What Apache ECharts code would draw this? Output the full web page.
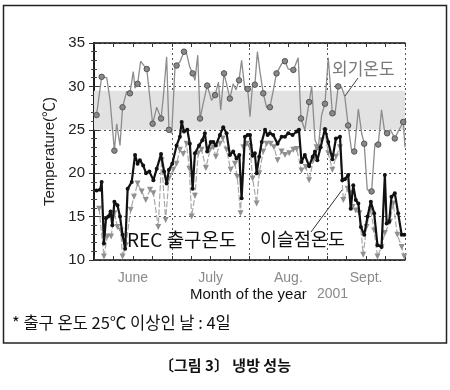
<!DOCTYPE html>
<html><head><meta charset="utf-8">
<script src="https://cdn.jsdelivr.net/npm/echarts@6/dist/echarts.min.js"></script>
<style>html,body{margin:0;padding:0;background:#fff}#c{width:450px;height:390px}</style>
</head><body><div id="c"></div>
<script>
const months = ['June', 'July', 'Aug.', 'Sept.'];
const yTicks = [10, 15, 20, 25, 30, 35];
const comfortBand = [25, 29.5];

// 외기온도 (outdoor)
const outDays = [1.0,3.0,5.0,6.3,8.0,8.9,10.2,11.2,12.8,14.1,15.4,16.1,17.1,18.3,19.6,20.7,23.0,24.6,26.3,27.2,28.5,29.4,30.5,31.8,32.4,33.7,35.3,36.3,37.6,38.7,39.6,40.7,41.6,43.1,44.4,46.1,47.5,48.8,49.7,51.0,52.0,53.3,54.6,55.7,56.9,57.9,59.2,60.3,61.2,62.1,63.1,64.1,65.1,66.4,67.7,69.0,70.1,71.6,73.6,74.9,76.2,78.2,80.1,81.2,82.7,84.4,85.4,86.7,88.0,89.3,90.6,91.9,93.5,94.5,95.8,97.1,98.4,99.7,101.0,102.1,103.7,105.0,106.0,107.2,108.9,110.2,111.5,112.8,114.1,115.0,116.3,118.0,119.3,121.3,122];
const outTemp = [26.7,31.1,31.0,28.4,22.6,25.7,23.2,27.6,29.4,29.2,31.7,29.8,30.3,32.9,32.4,32.0,25.7,27.6,26.3,28.8,33.4,25.0,24.6,32.4,32.4,32.8,34.0,33.8,32.2,31.5,30.7,33.6,26.3,28.4,30.1,28.4,29.0,30.5,27.3,31.5,30.3,28.6,30.3,29.6,30.7,33.0,29.6,29.7,26.5,29.9,30.2,34.0,31.7,29.2,27.6,27.6,29.2,31.5,32.6,32.9,32.0,31.9,33.3,26.3,25.0,28.2,30.0,23.8,23.0,26.7,28.0,33.3,26.9,26.7,30.0,29.9,28.8,25.5,22.7,22.5,27.4,24.6,23.4,18.1,17.9,23.4,23.3,27.3,24.6,24.6,25.0,24.0,24.8,25.9,23.0];
const outMark = [1,1,0,0,1,0,0,1,0,1, 0,0,1,0,0,1,1,0,1,0, 0,1,0,0,1,0,1,0,0,1, 0,0,1,0,1,0,1,0,0,1, 0,1,0,0,1,0,0,1,0,0, 1,0,0,1,0,1,0,1,0,1, 0,1,0,1,0,1,0,0,1,0, 1,0,1,0,1,0,0,1,0,1, 0,0,1,0,1,0,1,0,0,1, 0,1,0,1,0];

// REC 출구온도
const recDays = [1.0,2.4,3.0,3.9,4.7,5.6,6.5,7.2,8.0,9.2,10.2,11.2,12.2,13.2,14.8,16.1,17.1,18.0,19.3,20.4,21.7,23.3,24.6,26.3,27.5,28.5,29.4,30.7,32.4,33.7,34.4,35.3,36.6,37.6,38.7,39.6,41.2,42.5,43.5,44.4,45.8,46.8,47.8,49.4,50.7,52.0,53.3,54.6,55.9,57.0,57.9,59.2,60.3,61.2,62.2,63.1,63.8,64.8,65.8,67.1,68.1,69.0,70.3,72.0,73.6,74.9,76.2,77.9,79.5,80.4,81.4,82.7,84.4,85.8,86.7,87.6,88.9,90.6,91.9,93.5,94.9,96.5,97.4,98.4,99.7,100.7,101.7,102.7,103.7,104.7,106.0,107.3,108.6,109.9,111.2,112.8,114.1,114.8,115.8,116.7,118.0,119.3,120.7,121.7];
const recTemp = [18.0,18.1,19.0,11.9,14.8,15.0,15.6,14.0,16.7,16.3,15.0,12.9,11.3,18.2,19.0,22.1,21.1,21.5,20.9,20.0,20.2,19.2,20.5,22.2,20.2,18.8,20.4,21.1,23.2,24.2,25.9,24.8,25.0,23.4,18.2,22.3,23.2,23.8,24.6,22.5,23.6,23.6,23.2,24.4,25.3,24.6,22.1,22.5,21.7,22.1,17.1,24.2,24.4,24.4,22.0,22.3,20.0,21.9,23.6,25.0,24.4,24.6,24.4,23.4,24.2,24.2,24.6,24.4,24.8,25.0,21.3,22.1,20.8,21.9,22.5,21.5,23.0,25.1,23.6,21.6,24.0,24.2,19.2,19.3,19.8,15.9,18.6,16.9,16.5,13.8,12.9,15.0,16.7,15.4,11.7,11.5,19.8,14.2,14.4,17.3,17.7,15.4,12.9,12.9];

// 이슬점온도 (dew point)
const dewDays = [2.0,3.9,5.2,6.7,8.0,9.2,10.5,11.2,12.5,14.4,15.7,17.1,18.7,20.3,22.0,23.3,25.2,26.5,28.1,29.4,31.1,32.4,33.7,35.0,36.3,37.4,38.3,39.6,40.9,42.2,43.9,45.5,46.8,47.8,49.4,50.5,52.0,53.6,55.3,56.2,57.5,58.6,59.9,61.2,62.2,63.8,64.8,66.4,67.7,69.3,70.6,72.0,73.6,74.9,76.6,78.2,79.5,81.4,83.1,84.4,86.0,87.3,89.3,90.6,91.9,93.5,94.9,96.5,97.8,99.5,100.4,101.4,102.7,104.1,105.6,106.9,108.5,109.9,111.2,112.8,114.1,116.1,117.4,119.0,120.7,121.7];
const dewTemp = [15.9,10.4,12.7,12.7,15.4,13.8,13.4,10.4,11.7,15.8,17.3,18.8,17.9,16.9,18.1,17.7,13.8,21.5,14.6,19.4,20.4,21.1,22.7,22.2,23.4,20.5,15.0,17.4,22.3,22.7,20.6,22.7,23.0,21.9,23.4,24.0,22.7,20.4,21.1,19.6,15.4,23.0,23.4,23.0,19.4,16.5,20.0,22.5,23.4,23.4,23.0,21.5,22.5,22.1,22.3,22.7,22.8,20.3,20.7,19.2,21.5,23.0,23.8,24.8,22.3,20.4,21.9,23.0,16.9,18.2,17.7,16.1,15.7,15.4,10.6,13.8,15.8,13.4,10.4,11.5,13.1,14.4,16.5,12.9,11.5,10.4];

const FONT = "'Liberation Sans', Arial, 'Noto Sans CJK KR', sans-serif";
const KFONT = "'Noto Sans CJK KR', 'Liberation Sans', sans-serif";

const chart = echarts.init(document.getElementById('c'), null, {renderer: 'canvas'});

const outData = outDays.map((d, i) => ({value: [d, outTemp[i]], symbol: outMark[i] ? 'circle' : 'none'}));
const recData = recDays.map((d, i) => [d, recTemp[i]]);
const dewData = dewDays.map((d, i) => [d, dewTemp[i]]);

const xBase = {
  type: 'value', min: 0, max: 122, interval: 122 / 16,
  axisLine: {show: true, lineStyle: {color: '#111', width: 1.5}},
  axisTick: {show: true, inside: true, length: 4, lineStyle: {color: '#333'}},
  axisLabel: {show: false}, splitLine: {show: false}
};
const yBase = {
  type: 'value', min: yTicks[0], max: yTicks[yTicks.length - 1], interval: 5,
  axisLine: {show: true, lineStyle: {color: '#111', width: 1.5}},
  axisTick: {show: true, inside: true, length: 5, lineStyle: {color: '#333'}},
  minorTick: {show: true, splitNumber: 5, length: 3, lineStyle: {color: '#444'}}
};

chart.setOption({
  animation: false,
  backgroundColor: '#fff',
  grid: {left: 94, right: 45, top: 43, bottom: 130},
  xAxis: [
    Object.assign({}, xBase, {position: 'bottom'}),
    Object.assign({}, xBase, {position: 'top'}),
    {
      type: 'category', data: months, position: 'bottom', boundaryGap: true,
      axisLine: {show: false}, axisTick: {show: false},
      axisLabel: {color: '#8a8a8a', fontSize: 14, fontFamily: FONT, margin: 11},
      splitLine: {show: true, interval: 0, lineStyle: {color: '#555', type: [2, 3], width: 1}}
    }
  ],
  yAxis: [
    Object.assign({}, yBase, {
      position: 'left',
      name: 'Temperature(\u2103)', nameLocation: 'middle', nameGap: 36,
      nameTextStyle: {fontSize: 15, color: '#222', fontFamily: FONT},
      axisLabel: {fontSize: 15, color: '#222', fontFamily: FONT, margin: 9},
      splitLine: {show: true, lineStyle: {color: '#555', type: [2, 3], width: 1}}
    }),
    Object.assign({}, yBase, {position: 'right', axisLabel: {show: false}, splitLine: {show: false}})
  ],
  series: [
    {
      name: '외기온도', type: 'line', data: outData, xAxisIndex: 0, yAxisIndex: 0,
      showAllSymbol: true, symbolSize: 5.5,
      lineStyle: {color: '#8c8c8c', width: 1.3},
      itemStyle: {color: '#888', borderColor: '#555', borderWidth: 1},
      markArea: {silent: true, itemStyle: {color: '#e2e2e2'},
        data: [[{yAxis: comfortBand[0]}, {yAxis: comfortBand[1]}]]},
      z: 2
    },
    {
      name: '이슬점온도', type: 'line', data: dewData, xAxisIndex: 0, yAxisIndex: 0,
      showAllSymbol: true, symbol: 'triangle', symbolRotate: 180, symbolSize: 6,
      lineStyle: {color: '#a8a8a8', width: 1.2, type: [6, 2]},
      itemStyle: {color: '#909090'},
      z: 3
    },
    {
      name: 'REC 출구온도', type: 'line', data: recData, xAxisIndex: 0, yAxisIndex: 0,
      showAllSymbol: true, symbol: 'circle', symbolSize: 4,
      lineStyle: {color: '#111', width: 2.2},
      itemStyle: {color: '#111'},
      z: 4
    }
  ],
  graphic: [
    {type: 'rect', shape: {x: 3.5, y: 5.5, width: 443, height: 337.5}, style: {fill: 'none', stroke: '#222', lineWidth: 1.5}, z: 100},
    {type: 'text', left: 332, top: 60, style: {text: '외기온도', font: '17px ' + KFONT, fill: '#7a7a7a'}, z: 100},
    {type: 'line', shape: {x1: 358, y1: 78, x2: 345, y2: 96}, style: {stroke: '#444', lineWidth: 1}, z: 100},
    {type: 'text', left: 127, top: 230, style: {text: 'REC 출구온도', font: '19px ' + KFONT, fill: '#111'}, z: 100},
    {type: 'text', left: 260, top: 230, style: {text: '이슬점온도', font: '18.5px ' + KFONT, fill: '#111'}, z: 100},
    {type: 'line', shape: {x1: 311, y1: 232, x2: 342, y2: 190}, style: {stroke: '#333', lineWidth: 1}, z: 100},
    {type: 'text', left: 190, top: 287, style: {text: 'Month of the year', font: '15px ' + FONT, fill: '#111'}, z: 100},
    {type: 'text', left: 317, top: 287, style: {text: '2001', font: '14px ' + FONT, fill: '#8a8a8a'}, z: 100},
    {type: 'text', left: 12, top: 314, style: {text: '* 출구 온도 25\u2103 이상인 날 : 4일', font: '16.5px ' + KFONT, fill: '#111'}, z: 100},
    {type: 'text', left: 'center', top: 358, style: {text: '〔그림 3〕 냉방 성능', font: 'bold 15px ' + KFONT, fill: '#111'}, z: 100}
  ]
});
</script></body></html>
